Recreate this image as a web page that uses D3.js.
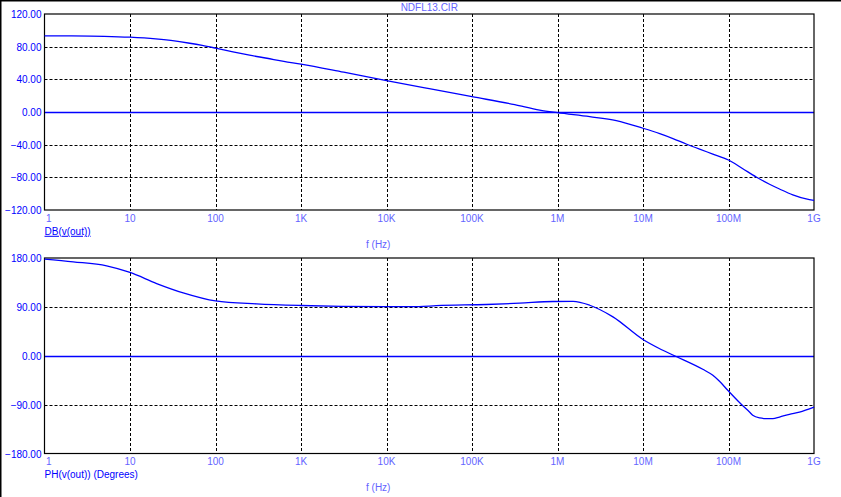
<!DOCTYPE html>
<html>
<head>
<meta charset="utf-8">
<script src="https://cdn.jsdelivr.net/npm/d3@7"></script>
<style>
html, body { margin: 0; padding: 0; background: #fff; }
svg { display: block; }
text { font-family: "Liberation Sans", Arial, sans-serif; font-size: 10px; }
</style>
</head>
<body>
<svg id="chart" width="841" height="497"></svg>
<script>
// ---- data ----
const title = "NDFL13.CIR";
const freqTicks = [1, 10, 100, 1e3, 1e4, 1e5, 1e6, 1e7, 1e8, 1e9];
const freqTickLabels = ["1", "10", "100", "1K", "10K", "100K", "1M", "10M", "100M", "1G"];
const dbTicks = [-120, -80, -40, 0, 40, 80, 120];
const phTicks = [-180, -90, 0, 90, 180];

const magFreq = [1, 2, 5, 10, 20, 30, 50, 70, 100, 160, 250, 400, 630, 1e3, 3.16e3, 1e4, 3.16e4, 1e5, 3.16e5,
  6.18e5, 1e6, 2.38e6, 4.87e6, 1e7, 1.57e7, 2.24e7, 3.2e7, 4.59e7, 6.56e7, 1e8, 1.47e8, 2.11e8, 3.02e8,
  3.95e8, 5.65e8, 8.1e8, 1e9];
const magDb = [93.3, 93.2, 92.7, 91.6, 89.5, 87.6, 84.2, 81.5, 78.2, 73.6, 69.6, 65.8, 62, 58.6, 48.7, 38.5, 28.6,
  18.8, 9, 2.4, -0.8, -5.7, -10.6, -19.9, -26.5, -32.5, -39.2, -45.5, -51.5, -58.8, -69.5, -79.6, -88.5,
  -94.3, -101.4, -106.4, -108.1];

const phFreq = [1, 2.17, 5.33, 10, 20.5, 41.9, 100, 302, 1e3, 3e3, 1e4, 2.4e4, 3.8e4, 1.47e5, 3.61e5, 8.86e5,
  1.52e6, 2.38e6, 4.45e6, 1e7, 1.55e7, 2.34e7, 5e7, 6.56e7, 7.85e7, 9.8e7, 1.41e8, 1.76e8, 1.92e8, 2.31e8,
  2.76e8, 3.3e8, 3.95e8, 5.16e8, 6.76e8, 1e9];
const phDeg = [178, 173, 165.6, 153.4, 133, 115.8, 101, 95.5, 92.5, 91, 90.3, 90.6, 92.3, 94.4, 96.8, 99.9,
  100, 93, 71.6, 29.9, 13.3, 0, -24.9, -36, -47, -63.6, -89.4, -103.6, -109.7, -114.6,
  -115.8, -115.8, -112.8, -107.8, -103.6, -94.4];

// ---- layout ----
const svg = d3.select("#chart");
const blue = "#0000ff";
const lightBlue = "#6464ff";

// window border (top & left)
svg.append("path").attr("d", "M0.75,497V0.75H841").attr("fill", "none").attr("stroke", "#000").attr("stroke-width", 1.5);

const x = d3.scaleLog().domain([1, 1e9]).range([44.5, 814]);

function panel(opts) {
  const g = svg.append("g");
  const y = d3.scaleLinear().domain(opts.domain).range([opts.bottom, opts.top]);
  const [x0, x1] = x.range();

  // grid
  g.append("g").selectAll("line").data(freqTicks.slice(1, -1)).join("line")
    .attr("x1", d => Math.round(x(d)) + 0.5).attr("x2", d => Math.round(x(d)) + 0.5)
    .attr("y1", opts.top).attr("y2", opts.bottom)
    .attr("stroke", "#000").attr("stroke-width", 1).attr("stroke-dasharray", "3,2");
  g.append("g").selectAll("line").data(opts.ticks.slice(1, -1).filter(d => d !== 0)).join("line")
    .attr("x1", x0).attr("x2", x1)
    .attr("y1", d => Math.round(y(d)) + 0.5).attr("y2", d => Math.round(y(d)) + 0.5)
    .attr("stroke", "#000").attr("stroke-width", 1).attr("stroke-dasharray", "3,2");

  // zero line
  g.append("line").attr("x1", x0).attr("x2", x1)
    .attr("y1", Math.round(y(0)) + 0.5).attr("y2", Math.round(y(0)) + 0.5)
    .attr("stroke", blue).attr("stroke-width", 1.3);

  // frame
  g.append("rect").attr("x", x0).attr("y", opts.top).attr("width", x1 - x0).attr("height", opts.bottom - opts.top)
    .attr("fill", "none").attr("stroke", "#000").attr("stroke-width", 1.2);

  // curve
  const line = d3.line().x(d => x(d[0])).y(d => y(d[1])).curve(d3.curveMonotoneX);
  g.append("path").datum(opts.freq.map((f, i) => [f, opts.vals[i]]))
    .attr("d", line).attr("fill", "none").attr("stroke", blue).attr("stroke-width", 1.3);

  // y tick labels
  g.append("g").selectAll("text").data(opts.ticks).join("text")
    .attr("x", 41.5).attr("y", d => y(d) + 4)
    .attr("text-anchor", "end").attr("fill", blue).attr("font-size", "10.5px")
    .text(d => d3.format(".2f")(d));

  // x tick labels
  g.append("g").selectAll("text").data(freqTicks).join("text")
    .attr("x", (d, i) => i === 0 ? x(d) + 1.5 : x(d))
    .attr("y", opts.bottom + 11.8)
    .attr("text-anchor", (d, i) => i === 0 ? "start" : "middle")
    .attr("fill", lightBlue)
    .text((d, i) => freqTickLabels[i]);

  // trace label
  const t = g.append("text").attr("x", 44.5).attr("y", opts.bottom + 24.8).attr("fill", blue).text(opts.label);
  if (opts.underline) t.attr("text-decoration", "underline");

  // axis title
  g.append("text").attr("x", 366).attr("y", opts.bottom + 37.6).attr("fill", lightBlue).text("f (Hz)");
  return g;
}

svg.append("text").attr("x", (x.range()[0] + x.range()[1]) / 2).attr("y", 11)
  .attr("text-anchor", "middle").attr("fill", lightBlue).text(title);

panel({ domain: [-120, 120], top: 14, bottom: 210, ticks: dbTicks, freq: magFreq, vals: magDb,
  label: "DB(v(out))", underline: true });
panel({ domain: [-180, 180], top: 258, bottom: 453.5, ticks: phTicks, freq: phFreq, vals: phDeg,
  label: "PH(v(out)) (Degrees)", underline: false });
</script>
</body>
</html>
